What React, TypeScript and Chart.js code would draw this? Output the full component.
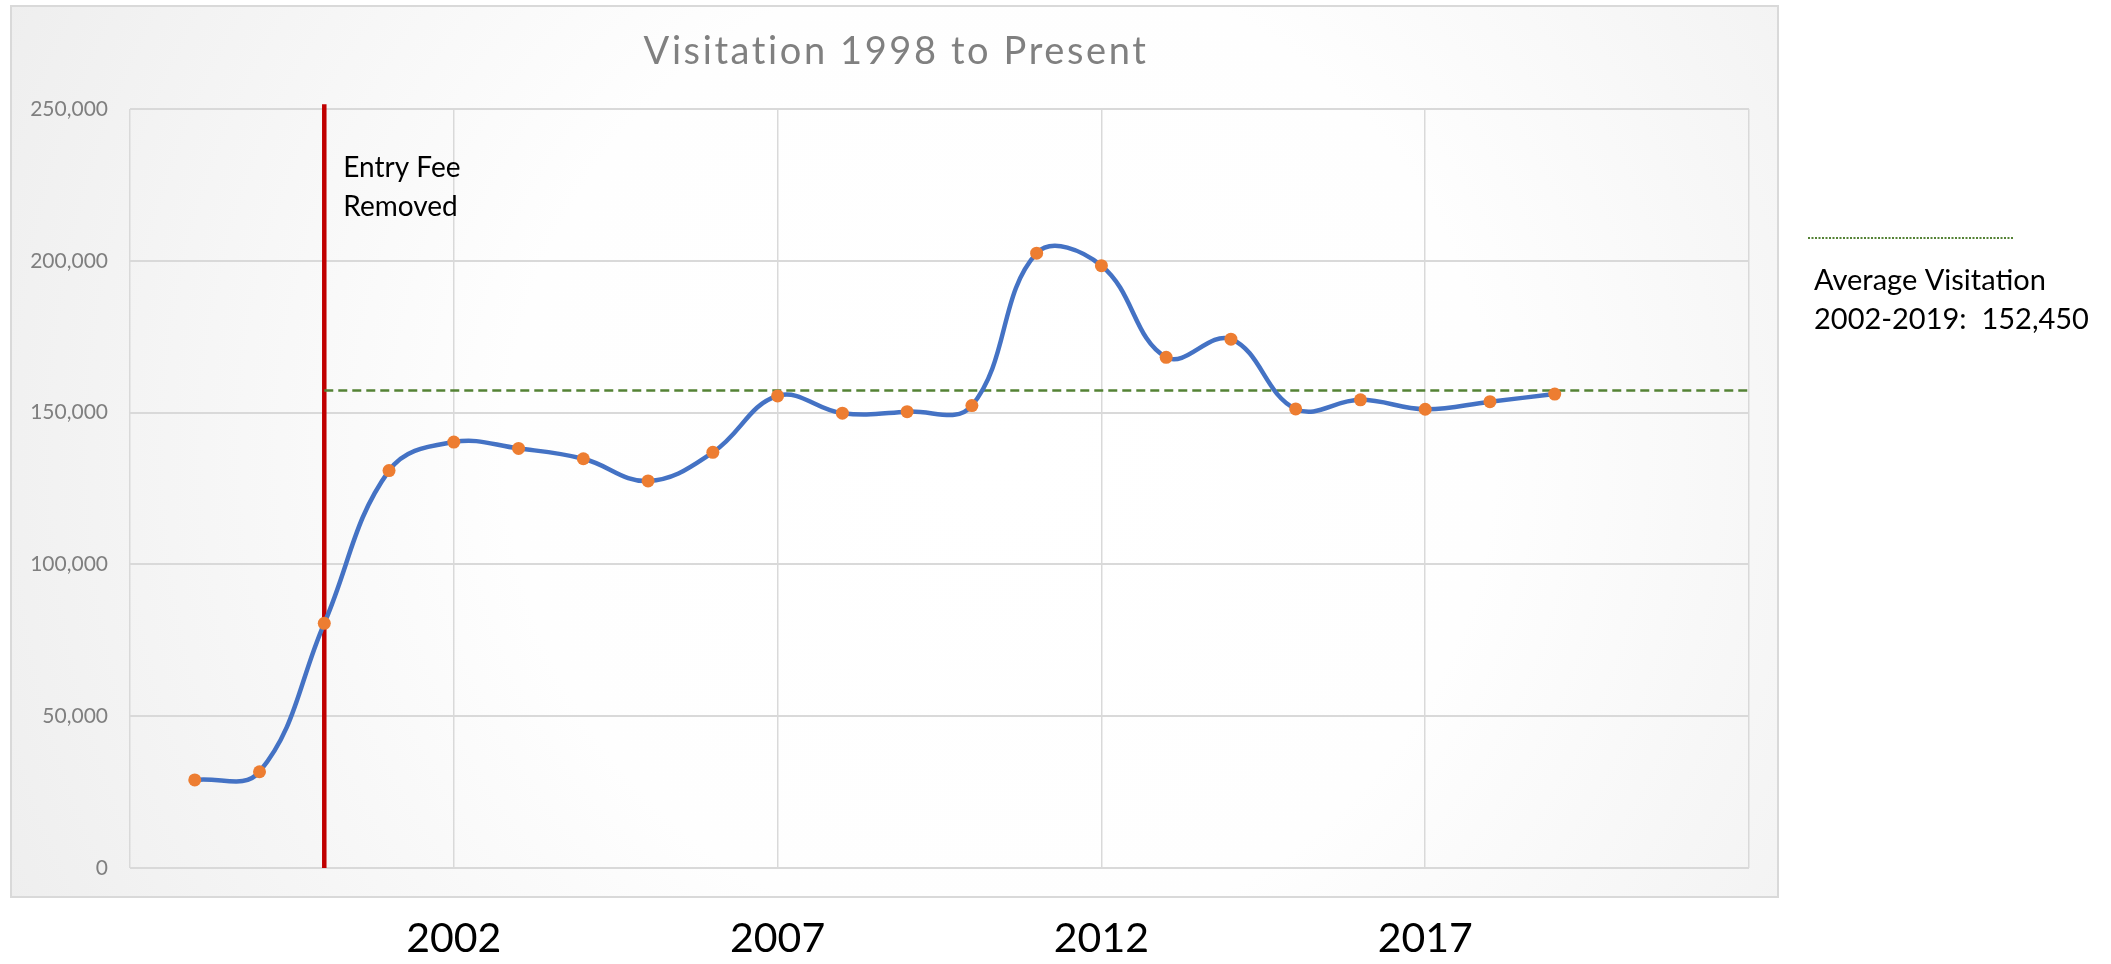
import React, { useEffect, useRef } from 'react';
import { Chart, registerables } from 'chart.js';

Chart.register(...registerables);

// ---- data ----
const YEARS = [1998, 1999, 2000, 2001, 2002, 2003, 2004, 2005, 2006, 2007, 2008, 2009, 2010, 2011, 2012, 2013, 2014, 2015, 2016, 2017, 2018, 2019];
const VISITORS = [29000, 31700, 80600, 130900, 140300, 138200, 134800, 127500, 136900, 155500, 149800, 150300, 152300, 202500, 198400, 168200, 174200, 151200, 154200, 151100, 153600, 156100];

const AVERAGE_LEVEL = 157300; // where the dashed average line is drawn in the picture
const AVERAGE_START = 2000;
const AVERAGE_END = 2022;

const FEE_YEAR = 2000;
const FEE_LINE_BOTTOM = 0;
const FEE_LINE_TOP = 251600;

const X_MIN = 1997;
const X_MAX = 2022;
const X_GRID_YEARS = [1997, 2002, 2007, 2012, 2017, 2022];
const X_LABEL_YEARS = [2002, 2007, 2012, 2017];
const Y_MIN = 0;
const Y_MAX = 250000;
const Y_STEP = 50000;

const TITLE = 'Visitation 1998 to Present';
const FEE_LABEL = ['Entry Fee', 'Removed'];
const AVG_LABEL = ['Average Visitation', '2002-2019:  152,450'];

const FONT = 'Lato, Carlito, "Open Sans", sans-serif';

const decorPlugin = {
  id: 'decor',
  beforeDraw(chart: any) {
    const ctx = chart.ctx as CanvasRenderingContext2D;
    ctx.save();
    ctx.fillStyle = '#ffffff';
    ctx.fillRect(0, 0, chart.width, chart.height);
    const fx = 11, fy = 6, fw = 1767, fh = 891;
    const cx = fx + fw * 0.56, cy = fy + fh * 0.5;
    const g = ctx.createRadialGradient(cx, cy, 0, cx, cy, fw * 0.62);
    g.addColorStop(0, '#ffffff');
    g.addColorStop(0.45, '#fefefe');
    g.addColorStop(1, '#eeeeee');
    ctx.fillStyle = g;
    ctx.fillRect(fx, fy, fw, fh);
    ctx.strokeStyle = '#d9d9d9';
    ctx.lineWidth = 2;
    ctx.strokeRect(fx, fy, fw, fh);
    ctx.restore();
  },
  afterDraw(chart: any) {
    const ctx = chart.ctx as CanvasRenderingContext2D;
    const xs = chart.scales.x;
    ctx.save();
    // title
    ctx.fillStyle = '#808080';
    ctx.font = `38px ${FONT}`;
    (ctx as any).letterSpacing = '2.6px';
    ctx.textAlign = 'center';
    ctx.textBaseline = 'middle';
    ctx.fillText(TITLE, 896, 52);
    (ctx as any).letterSpacing = '0px';

    // entry fee label
    ctx.fillStyle = '#000000';
    ctx.font = `28px ${FONT}`;
    ctx.textAlign = 'left';
    const fx = xs.getPixelForValue(FEE_YEAR) + 19;
    FEE_LABEL.forEach((t, i) => ctx.fillText(t, fx, 168 + i * 39));

    // side legend
    ctx.strokeStyle = '#548235';
    ctx.lineWidth = 2;
    ctx.setLineDash([2, 1.5]);
    ctx.beginPath();
    ctx.moveTo(1808, 238);
    ctx.lineTo(2013, 238);
    ctx.stroke();
    ctx.setLineDash([]);
    ctx.fillStyle = '#000000';
    ctx.font = `29px ${FONT}`;
    AVG_LABEL.forEach((t, i) => ctx.fillText(t, 1814, 281 + i * 39));
    ctx.restore();
  },
};

export default function App() {
  const ref = useRef<HTMLCanvasElement | null>(null);

  useEffect(() => {
    if (!ref.current) return;
    const chart = new Chart(ref.current, {
      type: 'line',
      data: {
        datasets: [
          {
            label: 'Visitation',
            data: YEARS.map((y, i) => ({ x: y, y: VISITORS[i] })),
            borderColor: '#4472C4',
            borderWidth: 4.5,
            tension: 0.4,
            pointRadius: 6.5,
            pointBackgroundColor: '#ED7D31',
            pointBorderColor: '#ED7D31',
            pointBorderWidth: 0,
            order: 0,
          },
          {
            label: 'Average',
            data: [
              { x: AVERAGE_START, y: AVERAGE_LEVEL },
              { x: AVERAGE_END, y: AVERAGE_LEVEL },
            ],
            borderColor: '#548235',
            borderWidth: 2.5,
            borderDash: [9, 5],
            pointRadius: 0,
            tension: 0,
            order: 1,
          },
          {
            label: 'Entry Fee Removed',
            data: [
              { x: FEE_YEAR, y: FEE_LINE_BOTTOM },
              { x: FEE_YEAR, y: FEE_LINE_TOP },
            ],
            borderColor: '#C00000',
            borderWidth: 4.5,
            pointRadius: 0,
            tension: 0,
            clip: false as any,
            order: 2,
          },
        ],
      },
      options: {
        animation: false,
        responsive: false,
        devicePixelRatio: 1,
        layout: { padding: { left: 0, top: 109, right: 362, bottom: 0 } },
        plugins: {
          legend: { display: false },
          tooltip: { enabled: false },
          title: { display: false },
        },
        scales: {
          x: {
            type: 'linear',
            min: X_MIN,
            max: X_MAX,
            afterBuildTicks: (scale: any) => {
              scale.ticks = X_GRID_YEARS.map((v) => ({ value: v }));
            },
            afterFit: (scale: any) => {
              scale.height = 96;
            },
            grid: { color: '#d9d9d9', lineWidth: 1.5, drawTicks: false },
            border: { display: false },
            ticks: {
              autoSkip: false,
              maxRotation: 0,
              padding: 46,
              color: '#000000',
              font: { family: FONT, size: 41 },
              callback: (v: any) => (X_LABEL_YEARS.includes(Number(v)) ? String(v) : ''),
            },
          },
          y: {
            type: 'linear',
            min: Y_MIN,
            max: Y_MAX,
            afterFit: (scale: any) => {
              scale.width = 130;
            },
            grid: { color: '#d9d9d9', lineWidth: 2, drawTicks: false },
            border: { display: false },
            ticks: {
              stepSize: Y_STEP,
              padding: 22,
              color: '#7f7f7f',
              font: { family: FONT, size: 21 },
              callback: (v: any) => Number(v).toLocaleString('en-US'),
            },
          },
        },
      },
      plugins: [decorPlugin],
    });
    return () => chart.destroy();
  }, []);

  return (
    <div style={{ position: 'absolute', left: 0, top: 0, width: 2111, height: 964 }}>
      <canvas ref={ref} width={2111} height={964} style={{ width: 2111, height: 964, display: 'block' }} />
    </div>
  );
}
